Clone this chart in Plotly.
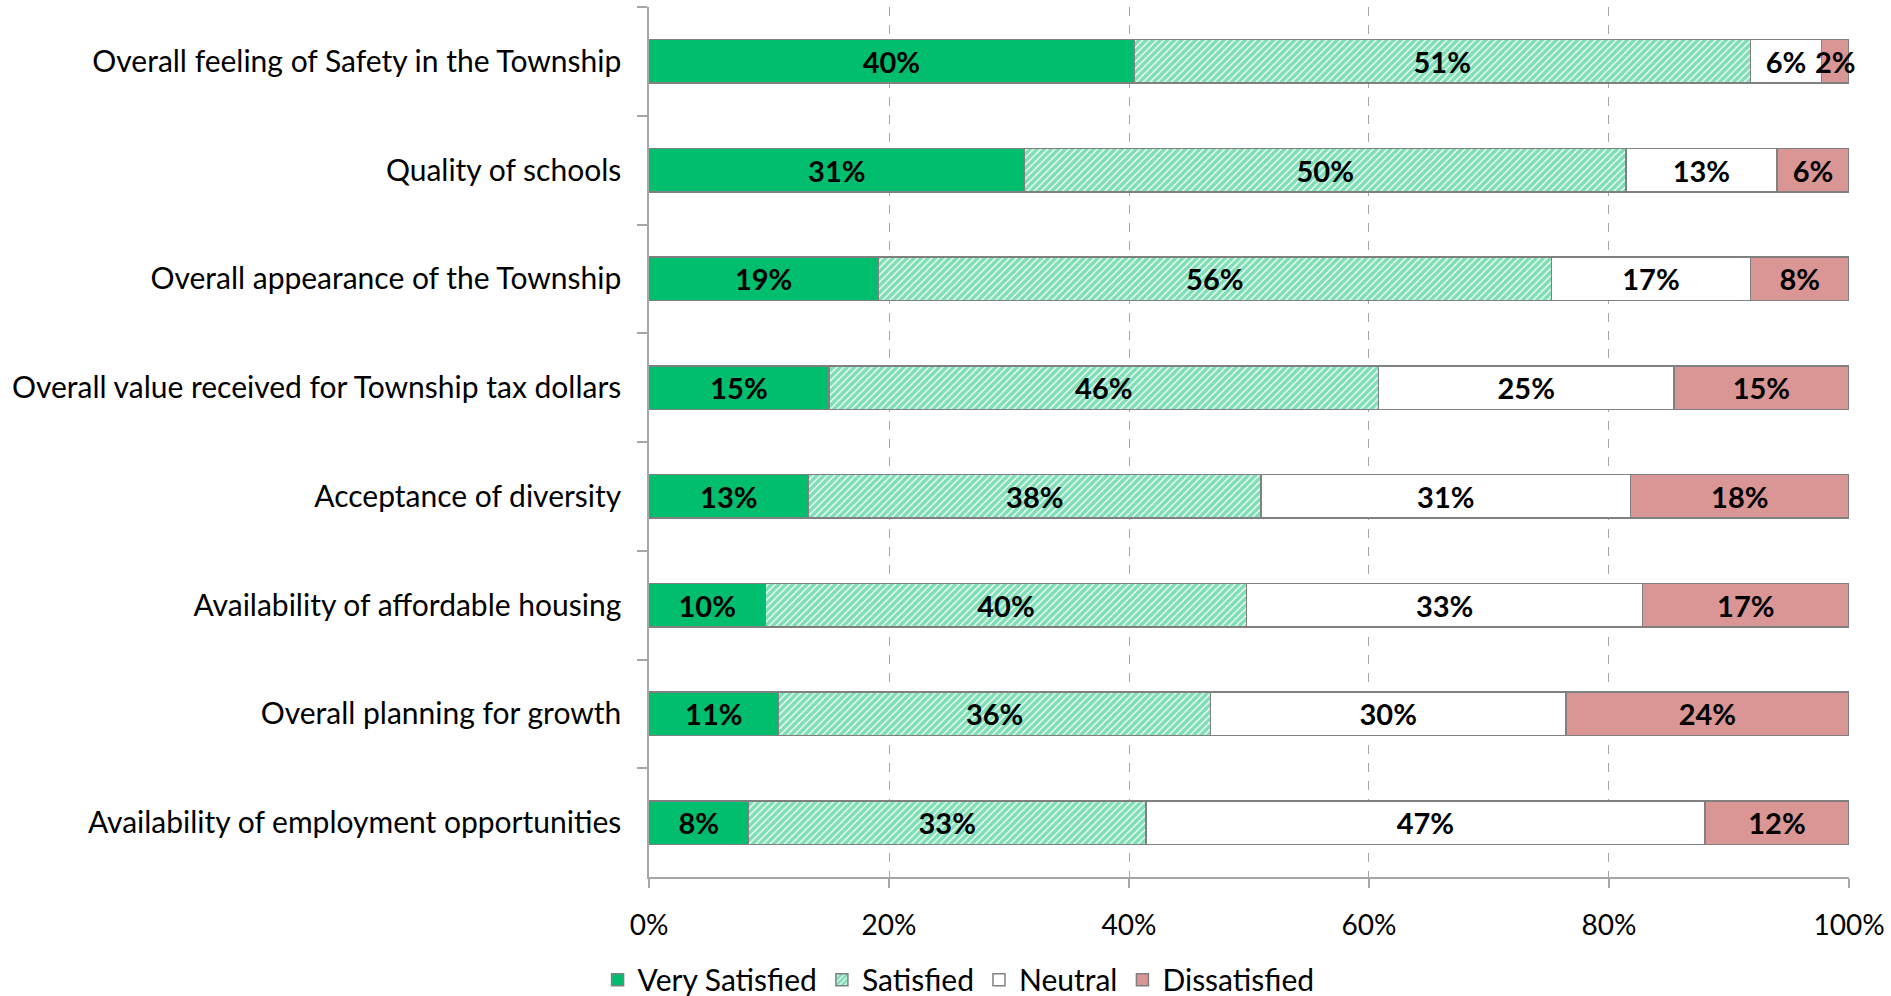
import plotly.graph_objects as go

categories = [
    "Overall feeling of Safety in the Township",
    "Quality of schools",
    "Overall appearance of the Township",
    "Overall value received for Township tax dollars",
    "Acceptance of diversity",
    "Availability of affordable housing",
    "Overall planning for growth",
    "Availability of employment opportunities",
]
very_satisfied = [40.4, 31.3, 19.1, 15.0, 13.3, 9.7, 10.8, 8.3]
satisfied = [51.4, 50.1, 56.1, 45.8, 37.7, 40.1, 36.0, 33.1]
neutral = [5.9, 12.6, 16.6, 24.6, 30.8, 33.0, 29.6, 46.6]
dissatisfied = [2.3, 6.0, 8.2, 14.6, 18.2, 17.2, 23.6, 12.0]
x_ticks = [0, 20, 40, 60, 80, 100]
x_tick_labels = ["0%", "20%", "40%", "60%", "80%", "100%"]

FONT = "Lato"
GREEN = "#00BE6E"
RED = "#D99694"
BORDER = "#808080"
AXIS = "#A6A6A6"

fig = go.Figure()

series = [
    ("Very Satisfied", very_satisfied, dict(color=GREEN)),
    ("Satisfied", satisfied, dict(color="white", pattern=dict(shape="/", fgcolor=GREEN, bgcolor="white", size=5, solidity=0.75, fillmode="overlay"))),
    ("Neutral", neutral, dict(color="white")),
    ("Dissatisfied", dissatisfied, dict(color=RED)),
]

for name, vals, mk in series:
    mk = dict(mk)
    mk["line"] = dict(color=BORDER, width=1.5)
    fig.add_trace(go.Bar(
        name=name,
        y=categories,
        x=vals,
        orientation="h",
        marker=mk,
        texttemplate="%{x:.0f}%",
        textposition="inside",
        insidetextanchor="middle",
        textangle=0,
        constraintext="none",
        cliponaxis=False,
        textfont=dict(family=FONT, size=29, color="black", weight="bold"),
        hoverinfo="skip",
    ))

fig.update_layout(
    barmode="stack",
    bargap=0.6,
    width=1891,
    height=996,
    paper_bgcolor="white",
    plot_bgcolor="white",
    margin=dict(l=649, r=42, t=7, b=119, autoexpand=False),
    font=dict(family=FONT, size=29, color="black"),
    showlegend=True,
    legend=dict(
        orientation="h",
        traceorder="normal",
        xref="paper",
        yref="paper",
        x=0.258,
        xanchor="center",
        y=-0.118,
        yanchor="middle",
        font=dict(family=FONT, size=30, color="black"),
    ),
)

fig.update_xaxes(
    range=[0, 100.001],
    tickvals=x_ticks,
    ticktext=x_tick_labels,
    showgrid=True,
    gridcolor=AXIS,
    griddash="dash",
    gridwidth=1,
    zeroline=False,
    showline=True,
    linecolor=AXIS,
    linewidth=1.5,
    ticks="outside",
    ticklen=9,
    tickcolor=AXIS,
    tickwidth=1.5,
    ticklabelstandoff=14,
    tickfont=dict(family=FONT, size=28, color="black"),
)

fig.update_yaxes(
    categoryorder="array",
    categoryarray=categories,
    autorange="reversed",
    showgrid=False,
    zeroline=False,
    showline=True,
    linecolor=AXIS,
    linewidth=1.5,
    ticks="outside",
    tickson="boundaries",
    ticklen=10,
    tickcolor=AXIS,
    tickwidth=1.5,
    ticklabelstandoff=20,
    tickfont=dict(family=FONT, size=30, color="black"),
)

fig.write_html(
    "out.html",
    config={"displayModeBar": False},
    post_script="document.body.style.margin='0';document.body.style.overflow='hidden';",
)
